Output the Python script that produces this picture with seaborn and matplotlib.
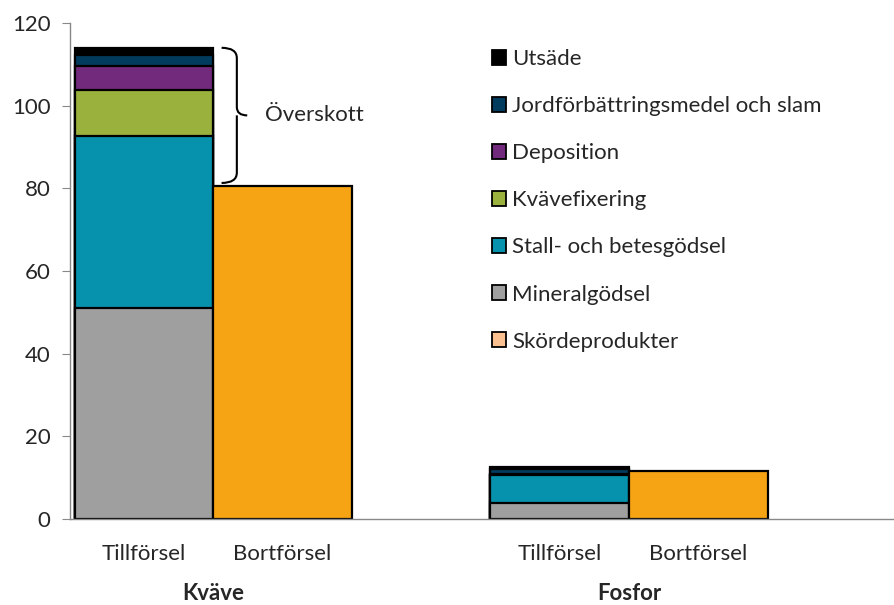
import matplotlib.pyplot as plt
import matplotlib.patches as mpatches
from matplotlib.path import Path
import matplotlib.transforms as mtransforms
import numpy as np
import pandas as pd
import seaborn as sb

# data (kg/ha)
segments = ['Mineralgödsel', 'Stall- och betesgödsel', 'Kvävefixering',
            'Deposition', 'Jordförbättringsmedel och slam', 'Utsäde']
seg_colors = ['#9f9f9f', '#0692ac', '#9bb13d', '#722a7c', '#013b5e', '#000000']
kvave_tillforsel = [51.0, 41.7, 11.2, 5.6, 2.7, 1.8]
fosfor_tillforsel = [3.9, 6.7, 0.0, 0.2, 1.4, 0.4]
bortforsel = [80.6, 11.6]
bort_color = '#f7a414'
skord_label = 'Skördeprodukter'
skord_legend_color = '#fac090'

groups = ['Kväve', 'Fosfor']
bar_labels = ['Tillförsel', 'Bortförsel']
order = ['KT', 'KB', 'gap', 'FT', 'FB']

sb.set_style('white')
plt.rcParams['font.family'] = ['Lato', 'DejaVu Sans']
fs = 16

fig = plt.figure(figsize=(8.95, 6.05), dpi=100)
ax = fig.add_axes([70 / 895, 1 - 519 / 605, 1 - 70 / 895, (519 - 23) / 605])

lw = 1.6
kt_cum = np.cumsum(kvave_tillforsel)
ft_cum = np.cumsum(fosfor_tillforsel)
# stacked: draw cumulative totals from top layer down
for i in range(len(segments) - 1, -1, -1):
    df = pd.DataFrame({'pos': ['KT', 'FT'], 'value': [kt_cum[i], ft_cum[i]]})
    sb.barplot(data=df, x='pos', y='value', order=order, color=seg_colors[i],
               saturation=1, width=1, edgecolor='black', linewidth=lw, ax=ax)

df_b = pd.DataFrame({'pos': ['KB', 'FB'], 'value': bortforsel})
sb.barplot(data=df_b, x='pos', y='value', order=order, color=bort_color,
           saturation=1, width=1, edgecolor='black', linewidth=lw, ax=ax)

ax.set_xlim(-0.534, 5.42)
ax.set_ylim(0, 120)
ax.set_yticks(range(0, 121, 20))
ax.set_xlabel('')
ax.set_ylabel('')
ax.set_xticks([0, 1, 3, 4])
ax.set_xticklabels(bar_labels * 2)
ax.tick_params(axis='x', length=0, pad=18, labelsize=fs)
ax.tick_params(axis='y', length=6, direction='out', left=True, labelsize=fs, pad=8,
               color='#888888')
for s in ['top', 'right']:
    ax.spines[s].set_visible(False)
for s in ['left', 'bottom']:
    ax.spines[s].set_color('#888888')
    ax.spines[s].set_linewidth(1.0)

trans = mtransforms.blended_transform_factory(ax.transData, fig.transFigure)
for xc, g in zip([0.5, 3.5], groups):
    ax.text(xc, 1 - 593 / 605, g, transform=trans, ha='center', va='center',
            fontsize=fs, fontweight='bold')

# brace for "Överskott"
y_top = kt_cum[-1]
y_bot = bortforsel[0] + 0.7
y_mid = (y_top + y_bot) / 2
x0, x1, x2 = 0.56, 0.67, 0.745
verts = [(x0, y_top), (x1, y_top), (x1, y_top - 2.5),
         (x1, y_mid + 2), (x1, y_mid), (x2, y_mid),
         (x1, y_mid), (x1, y_mid - 2),
         (x1, y_bot + 2.5), (x1, y_bot), (x0, y_bot)]
codes = [Path.MOVETO, Path.CURVE3, Path.CURVE3,
         Path.LINETO, Path.CURVE3, Path.CURVE3,
         Path.MOVETO, Path.LINETO,
         Path.LINETO, Path.CURVE3, Path.CURVE3]
ax.add_patch(mpatches.PathPatch(Path(verts, codes), fill=False, lw=1.5,
                                edgecolor='black', clip_on=False))
ax.text(0.87, y_mid, 'Överskott', ha='left', va='center', fontsize=fs)

handles = [mpatches.Patch(facecolor=c, edgecolor='black', linewidth=1.3)
           for c in seg_colors[::-1]]
handles.append(mpatches.Patch(facecolor=skord_legend_color, edgecolor='black', linewidth=1.3))
labels = segments[::-1] + [skord_label]
ax.legend(handles, labels, loc='upper left', bbox_to_anchor=(492 / 895, 1 - 49 / 605),
          bbox_transform=fig.transFigure, frameon=False, fontsize=fs,
          handlelength=0.65, handleheight=0.65, handletextpad=0.25,
          labelspacing=1.22, borderpad=0, borderaxespad=0)

plt.savefig('out.png', dpi=100)
